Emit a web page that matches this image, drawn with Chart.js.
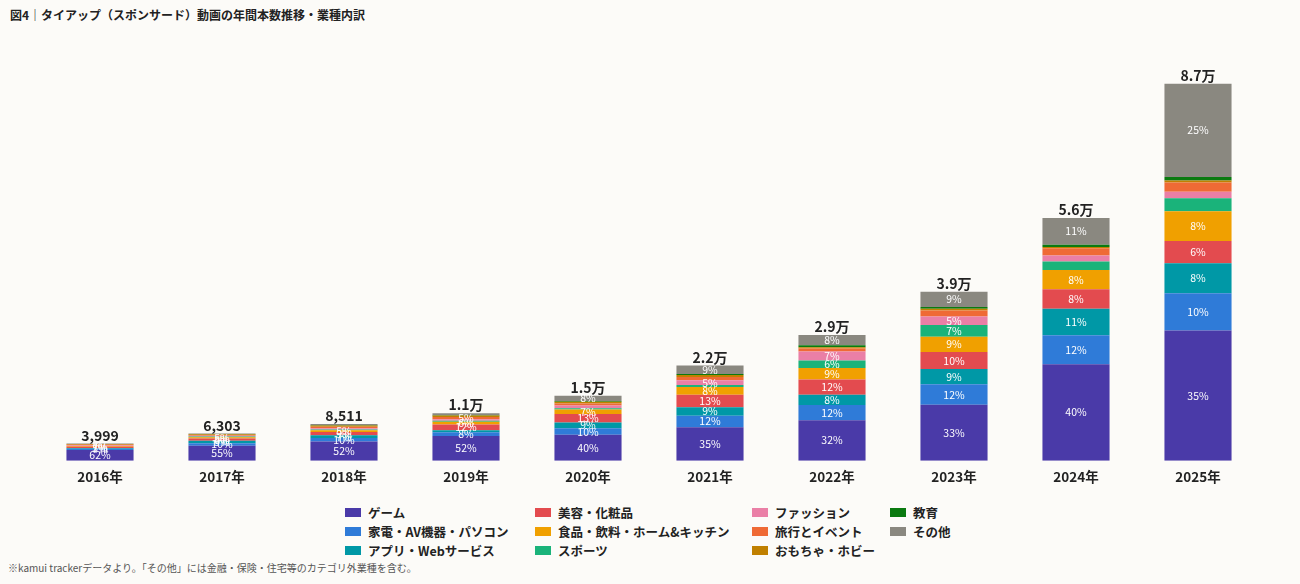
<!DOCTYPE html>
<html><head><meta charset="utf-8">
<script src="https://cdn.jsdelivr.net/npm/chart.js@4"></script>
<style>
body{margin:0;background:#fcfbf8;font-family:"Noto Sans CJK JP",sans-serif;width:1300px;height:584px;overflow:hidden;position:relative}
#title{position:absolute;left:10px;top:6px;font-size:12px;font-weight:bold;color:#222}
#wrap{position:absolute;left:0;top:30px;width:1300px;height:455px}
#legend{position:absolute;left:345px;top:503px;font-size:12.5px;font-weight:bold;color:#222}
.it{position:absolute;white-space:nowrap;display:flex;align-items:center}
.sw{width:16px;height:9px;margin-right:7px;display:inline-block}
#note{position:absolute;left:8px;top:560px;font-size:10px;color:#555}
</style></head><body>
<div id="title">図4｜タイアップ（スポンサード）動画の年間本数推移・業種内訳</div>
<div id="wrap"><canvas id="c"></canvas></div>
<div id="legend"></div>
<div id="note">※kamui trackerデータより。「その他」には金融・保険・住宅等のカテゴリ外業種を含む。</div>
<script>
const years=["2016年","2017年","2018年","2019年","2020年","2021年","2022年","2023年","2024年","2025年"];
const totals=[3999,6303,8511,11000,15000,22000,29000,39000,56000,87000];
const totalLabels=["3,999","6,303","8,511","1.1万","1.5万","2.2万","2.9万","3.9万","5.6万","8.7万"];
const categories=["ゲーム","家電・AV機器・パソコン","アプリ・Webサービス","美容・化粧品","食品・飲料・ホーム&キッチン","スポーツ","ファッション","旅行とイベント","おもちゃ・ホビー","教育","その他"];
const colors=["#4a3aa8","#2f7bd8","#0098a6","#e34b4f","#f0a000","#1ab37a","#ea7fa6","#ef6a35","#c08000","#0a7a10","#8a8880"];
// share (%) per category per year
const shareGame=[62,55,52,52,40,35,32,33,40,35];
const shareElec=[7,10,10,8,10,12,12,12,12,10];
const shareApp=[5,9,7,4,9,9,8,9,11,8];
const shareBeauty=[7,8,9,12,13,13,12,10,8,6];
const shareFood=[4,5,5,6,7,8,9,9,8,8];
const shareSports=[1,2,2,2,2,2,6,7,3.5,3.5];
const shareFashion=[3,3,3,3,4,5,7,5,2.5,1.7];
const shareTravel=[4,3,4,5,3,3.5,2.5,3.5,3,2.5];
const shareToy=[4,3,4,3,3,2,1,1,0.5,0.5];
const shareEdu=[0.5,0.5,1,1,1,1,1.5,1,1,1];
const shareOther=[2.5,2,3,4,8,9,8,9,11,25];
const shares=[shareGame,shareElec,shareApp,shareBeauty,shareFood,shareSports,shareFashion,shareTravel,shareToy,shareEdu,shareOther];

const datasets=categories.map((n,i)=>({label:n,backgroundColor:colors[i],
  data:shares[i].map((s,j)=>{const sum=shares.reduce((a,arr)=>a+arr[j],0);return totals[j]*s/sum;}),
  shares:shares[i],barPercentage:0.55,categoryPercentage:1}));

const plug={id:'lbl',afterDatasetsDraw(ch){const ctx=ch.ctx;ctx.save();ctx.textAlign='center';ctx.textBaseline='middle';
 ch.data.datasets.forEach((ds,di)=>{ch.getDatasetMeta(di).data.forEach((el,j)=>{const s=ds.shares[j];if(s<5)return;
  ctx.fillStyle='#fff';ctx.font='10.5px "Noto Sans CJK JP"';ctx.fillText(Math.round(s)+'%',el.x,(el.y+el.base)/2);});});
 const top=ch.getDatasetMeta(ch.data.datasets.length-1);
 ctx.fillStyle='#222';ctx.font='bold 14px "Noto Sans CJK JP"';ctx.textBaseline='bottom';
 top.data.forEach((el,j)=>ctx.fillText(totalLabels[j],el.x,el.y-1));ctx.restore();}};

new Chart(document.getElementById('c'),{type:'bar',data:{labels:years,datasets},plugins:[plug],
 options:{responsive:true,maintainAspectRatio:false,animation:false,
  layout:{padding:{left:39,right:41,top:0,bottom:0}},
  plugins:{legend:{display:false},tooltip:{enabled:false}},
  scales:{x:{stacked:true,grid:{display:false},border:{display:false},ticks:{color:'#222',font:{size:13.5,weight:'bold',family:'"Noto Sans CJK JP"'},padding:0}},
   y:{stacked:true,display:false,min:0,max:99400}}}});

const lg=document.getElementById('legend');
const colX=[0,190,407,545];
const order=[[0,1,2],[3,4,5],[6,7,8],[9,10]];
order.forEach((col,ci)=>col.forEach((k,ri)=>{const d=document.createElement('div');d.className='it';
 d.style.left=colX[ci]+'px';d.style.top=(ri*19)+'px';
 d.innerHTML='<span class="sw" style="background:'+colors[k]+'"></span>'+categories[k];lg.appendChild(d);}));
</script></body></html>
